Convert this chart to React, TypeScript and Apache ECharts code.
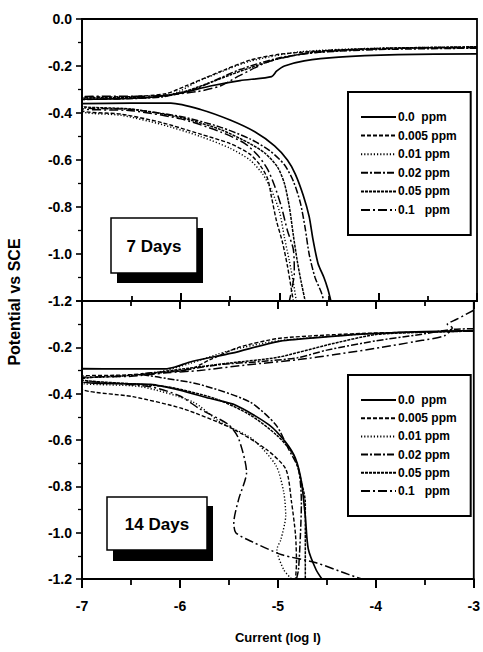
import React, { useEffect, useRef } from "react";
import * as echarts from "echarts";

// ---------- data (log I, potential vs SCE) ----------
const SERIES_NAMES = ["0.0  ppm", "0.005 ppm", "0.01 ppm", "0.02 ppm", "0.05 ppm", "0.1   ppm"];
const X_TICKS = [-7, -6, -5, -4, -3];
const Y_TICKS = [0.0, -0.2, -0.4, -0.6, -0.8, -1.0, -1.2];
const PANEL_LABELS = ["7 Days", "14 Days"];

// 7 days
const d7_00 = [[-3,-0.148],[-3.8,-0.152],[-4.4,-0.162],[-4.75,-0.178],[-4.95,-0.2],[-5.03,-0.222],[-5.08,-0.245],[-5.4,-0.262],[-5.7,-0.285],[-6.0,-0.315],[-6.3,-0.333],[-6.7,-0.34],[-7,-0.342],
  [-7,-0.36],[-6.5,-0.358],[-6.1,-0.358],[-5.8,-0.385],[-5.5,-0.43],[-5.25,-0.48],[-5.05,-0.54],[-4.92,-0.6],[-4.84,-0.66],[-4.76,-0.75],[-4.7,-0.84],[-4.66,-0.94],[-4.61,-1.04],[-4.55,-1.1],[-4.51,-1.15],[-4.48,-1.2]];
const d7_005 = [[-3,-0.122],[-3.5,-0.123],[-4.0,-0.127],[-4.5,-0.134],[-5.0,-0.15],[-5.3,-0.175],[-5.55,-0.215],[-5.75,-0.25],[-5.95,-0.285],[-6.15,-0.318],[-6.5,-0.33],[-7,-0.335],
  [-7,-0.388],[-6.6,-0.405],[-6.2,-0.44],[-5.8,-0.49],[-5.5,-0.53],[-5.3,-0.575],[-5.2,-0.62],[-5.12,-0.68],[-5.08,-0.76],[-5.03,-0.86],[-4.97,-0.95],[-4.92,-1.05],[-4.88,-1.15],[-4.86,-1.2]];
const d7_01 = [[-3,-0.12],[-4,-0.124],[-4.8,-0.14],[-5.3,-0.18],[-5.65,-0.235],[-5.85,-0.27],[-6.0,-0.305],[-6.15,-0.328],[-6.5,-0.337],[-7,-0.34],
  [-7,-0.392],[-6.6,-0.41],[-6.2,-0.448],[-5.8,-0.5],[-5.5,-0.55],[-5.3,-0.6],[-5.17,-0.66],[-5.08,-0.73],[-5.0,-0.82],[-4.95,-0.93],[-4.9,-1.03],[-4.86,-1.12],[-4.83,-1.2]];
const d7_02 = [[-3,-0.124],[-4,-0.13],[-4.6,-0.142],[-5.0,-0.165],[-5.4,-0.215],[-5.7,-0.27],[-5.9,-0.305],[-6.2,-0.332],[-6.6,-0.34],[-7,-0.345],
  [-7,-0.375],[-6.5,-0.385],[-6.0,-0.415],[-5.6,-0.46],[-5.3,-0.51],[-5.1,-0.56],[-4.95,-0.62],[-4.86,-0.69],[-4.79,-0.78],[-4.74,-0.89],[-4.7,-1.0],[-4.64,-1.1],[-4.58,-1.16],[-4.55,-1.2]];
const d7_05 = [[-3,-0.118],[-4,-0.125],[-4.6,-0.138],[-5.0,-0.168],[-5.3,-0.208],[-5.5,-0.238],[-5.75,-0.278],[-6.0,-0.313],[-6.3,-0.333],[-7,-0.338],
  [-7,-0.37],[-6.5,-0.383],[-6.0,-0.42],[-5.6,-0.47],[-5.3,-0.53],[-5.15,-0.57],[-5.02,-0.63],[-4.95,-0.7],[-4.9,-0.8],[-4.86,-0.92],[-4.82,-1.03],[-4.78,-1.12],[-4.74,-1.2]];
const d7_1 = [[-3,-0.12],[-4,-0.127],[-4.7,-0.145],[-5.1,-0.18],[-5.4,-0.24],[-5.6,-0.285],[-5.85,-0.31],[-6.3,-0.328],[-7,-0.33],
  [-7,-0.38],[-6.5,-0.39],[-6.0,-0.425],[-5.6,-0.48],[-5.35,-0.53],[-5.22,-0.58],[-5.12,-0.64],[-5.05,-0.71],[-4.98,-0.8],[-4.92,-0.9],[-4.86,-0.98],[-4.85,-1.08],[-4.87,-1.14],[-4.9,-1.2]];

// 14 days
const d14_00 = [[-3,-0.128],[-3.5,-0.132],[-4.1,-0.142],[-4.6,-0.158],[-5.0,-0.175],[-5.47,-0.225],[-5.87,-0.26],[-6.05,-0.285],[-6.15,-0.293],[-6.6,-0.293],[-7,-0.292],
  [-7,-0.348],[-6.3,-0.36],[-6.0,-0.385],[-5.7,-0.42],[-5.43,-0.45],[-5.09,-0.535],[-4.92,-0.61],[-4.82,-0.68],[-4.76,-0.78],[-4.72,-0.93],[-4.69,-1.07],[-4.61,-1.16],[-4.55,-1.2]];
const d14_005 = [[-3,-0.13],[-4,-0.138],[-4.5,-0.147],[-5.0,-0.162],[-5.4,-0.2],[-5.7,-0.255],[-5.9,-0.295],[-6.2,-0.31],[-6.6,-0.32],[-7,-0.325],
  [-7,-0.378],[-6.48,-0.413],[-5.97,-0.465],[-5.47,-0.55],[-5.12,-0.64],[-4.92,-0.725],[-4.86,-0.87],[-4.82,-1.01],[-4.81,-1.13],[-4.82,-1.2]];
const d14_01 = [[-3,-0.13],[-4,-0.14],[-5,-0.172],[-5.5,-0.215],[-5.9,-0.27],[-6.2,-0.305],[-6.6,-0.325],[-7,-0.335],
  [-7,-0.355],[-6.4,-0.37],[-5.87,-0.435],[-5.6,-0.52],[-5.26,-0.596],[-5.02,-0.71],[-4.94,-0.826],[-4.92,-0.926],[-4.97,-1.03],[-5.01,-1.073],[-4.94,-1.16],[-4.86,-1.2]];
const d14_02 = [[-3,-0.12],[-3.2,-0.122],[-3.6,-0.148],[-4.0,-0.172],[-4.5,-0.212],[-4.8,-0.245],[-5.2,-0.262],[-5.6,-0.275],[-6.0,-0.3],[-6.3,-0.31],[-6.4,-0.315],
  [-6.2,-0.33],[-5.8,-0.36],[-5.29,-0.435],[-5.02,-0.535],[-4.89,-0.64],[-4.79,-0.725],[-4.76,-0.87],[-4.77,-1.01],[-4.79,-1.16],[-4.81,-1.2]];
const d14_05 = [[-3,-0.13],[-3.5,-0.135],[-4.0,-0.145],[-4.5,-0.19],[-5.0,-0.243],[-5.5,-0.268],[-6.0,-0.295],[-6.4,-0.318],[-7,-0.335],
  [-7,-0.34],[-6.14,-0.37],[-5.65,-0.42],[-5.29,-0.49],[-5.01,-0.58],[-4.84,-0.665],[-4.76,-0.78],[-4.72,-0.87],[-4.72,-1.0],[-4.72,-1.2]];
const d14_1 = [[-3,-0.04],[-3.18,-0.08],[-3.27,-0.1],[-3.22,-0.115],[-3.3,-0.15],[-3.6,-0.175],[-3.94,-0.2],[-4.4,-0.23],[-4.79,-0.253],[-5.3,-0.275],[-5.8,-0.3],[-6.14,-0.31],[-6.5,-0.325],[-7,-0.33],
  [-7,-0.34],[-6.3,-0.37],[-6.0,-0.41],[-5.8,-0.465],[-5.5,-0.535],[-5.4,-0.595],[-5.32,-0.74],[-5.4,-0.855],[-5.45,-0.957],[-5.43,-1.0],[-5.26,-1.04],[-4.96,-1.095],[-4.61,-1.13],[-4.28,-1.18],[-4.05,-1.21],[-3.5,-1.222],[-3,-1.228]];

const DAY7 = [d7_00, d7_005, d7_01, d7_02, d7_05, d7_1];
const DAY14 = [d14_00, d14_005, d14_01, d14_02, d14_05, d14_1];

// ---------- styling ----------
const FONT = '"Liberation Sans",Arial,sans-serif';
const LINE_STYLES: any[] = [
  { type: "solid", width: 1.7 },
  { type: [4, 2], width: 1.4 },
  { type: [1.2, 2], width: 1.4 },
  { type: [7, 2, 2, 2], width: 1.5 },
  { type: [3, 1], width: 1.5 },
  { type: [9, 3, 2, 3], width: 1.5 },
];

function buildOption() {
  const labelStyle = { color: "#000", fontFamily: FONT, fontWeight: "bold", fontSize: 14 };
  const series: any[] = [];
  [DAY7, DAY14].forEach((panel, gi) => {
    panel.forEach((d, i) => {
      series.push({
        type: "line",
        name: SERIES_NAMES[i],
        xAxisIndex: gi === 0 ? 0 : 1,
        yAxisIndex: gi,
        data: d,
        symbol: "none",
        showSymbol: false,
        smooth: 0.25,
        clip: true,
        lineStyle: { color: "#000", ...LINE_STYLES[i] },
        itemStyle: { color: "#000" },
      });
    });
  });

  const yAxisBase = (gi: number) => ({
    type: "value",
    gridIndex: gi,
    min: Y_TICKS[Y_TICKS.length - 1],
    max: Y_TICKS[0],
    interval: 0.2,
    axisLine: { show: true, lineStyle: { color: "#000", width: 1.8 } },
    axisTick: { show: true, inside: false, length: 6, lineStyle: { color: "#000", width: 1.6 } },
    minorTick: { show: true, splitNumber: 2, length: 4, lineStyle: { color: "#000", width: 1.3 } },
    splitLine: { show: false },
    axisLabel: {
      ...labelStyle,
      margin: 10,
      formatter: (v: number) => {
        if (gi === 1 && Math.abs(v) < 1e-9) return "";
        return (Math.abs(v) < 1e-9 ? 0 : v).toFixed(1);
      },
    },
  });

  const xBase = {
    type: "value",
    min: X_TICKS[0],
    max: X_TICKS[X_TICKS.length - 1],
    interval: 1,
    splitLine: { show: false },
    axisLine: { show: true, onZero: false, lineStyle: { color: "#000", width: 2 } },
  };

  return {
    animation: false,
    backgroundColor: "#fff",
    grid: [
      { left: 82, top: 19, width: 395, height: 282, show: true, borderColor: "#000", borderWidth: 1.8, backgroundColor: "transparent" },
      { left: 82, top: 301, width: 395, height: 278, show: true, borderColor: "#000", borderWidth: 1.8, backgroundColor: "transparent" },
    ],
    xAxis: [
      {
        ...xBase, gridIndex: 0, position: "bottom",
        axisTick: { show: true, inside: true, length: 8, lineStyle: { color: "#000", width: 2 } },
        minorTick: { show: true, splitNumber: 2, length: 5, lineStyle: { color: "#000", width: 1.8 } },
        axisLabel: { show: false },
      },
      {
        ...xBase, gridIndex: 1, position: "bottom",
        axisTick: { show: true, inside: false, length: 9, lineStyle: { color: "#000", width: 2 } },
        minorTick: { show: true, splitNumber: 2, length: 6, lineStyle: { color: "#000", width: 1.8 } },
        axisLabel: { ...labelStyle, margin: 20, formatter: (v: number) => String(v) },
        name: "Current (log I)",
        nameLocation: "middle",
        nameGap: 52,
        nameTextStyle: { color: "#000", fontFamily: FONT, fontWeight: "bold", fontSize: 13 },
      },
      {
        ...xBase, gridIndex: 1, position: "top",
        axisTick: { show: true, inside: true, length: 8, lineStyle: { color: "#000", width: 2 } },
        minorTick: { show: true, splitNumber: 2, length: 5, lineStyle: { color: "#000", width: 1.8 } },
        axisLabel: { show: false },
      },
    ],
    yAxis: [yAxisBase(0), yAxisBase(1)],
    legend: [0, 1].map((gi) => ({
      data: SERIES_NAMES,
      orient: "vertical",
      left: 348,
      top: gi === 0 ? 92 : 375,
      itemWidth: 35,
      itemHeight: 14,
      itemGap: gi === 0 ? 6.6 : 6.2,
      padding: [19, 14, 19, 12],
      borderColor: "#000",
      borderWidth: 2,
      backgroundColor: "#fff",
      selectedMode: false,
      itemStyle: { opacity: 0 },
      textStyle: { color: "#000", fontFamily: FONT, fontWeight: "bold", fontSize: 12, padding: [0, 0, 0, -3] },
    })),
    graphic: [
      // 7 Days box
      { type: "rect", z: 10, shape: { x: 117, y: 228, width: 86, height: 55 }, style: { fill: "#000" } },
      { type: "rect", z: 11, shape: { x: 111, y: 218, width: 86, height: 55 }, style: { fill: "#fff", stroke: "#000", lineWidth: 1.5 } },
      {
        type: "text", z: 12, x: 154, y: 246,
        style: { text: PANEL_LABELS[0], fill: "#000", fontFamily: FONT, fontSize: 17, fontWeight: "bold", align: "center", verticalAlign: "middle", textAlign: "center", textVerticalAlign: "middle" },
      },
      // 14 Days box
      { type: "rect", z: 10, shape: { x: 113, y: 506, width: 100, height: 55 }, style: { fill: "#000" } },
      { type: "rect", z: 11, shape: { x: 107, y: 497, width: 100, height: 53 }, style: { fill: "#fff", stroke: "#000", lineWidth: 1.5 } },
      {
        type: "text", z: 12, x: 157, y: 524,
        style: { text: PANEL_LABELS[1], fill: "#000", fontFamily: FONT, fontSize: 17, fontWeight: "bold", align: "center", verticalAlign: "middle", textAlign: "center", textVerticalAlign: "middle" },
      },
      // Y title
      {
        type: "text", z: 12, x: 14, y: 302, rotation: Math.PI / 2,
        style: { text: "Potential vs SCE", fill: "#000", fontFamily: FONT, fontSize: 16, fontWeight: "bold", align: "center", verticalAlign: "middle", textAlign: "center", textVerticalAlign: "middle" },
      },
    ],
    series,
  };
}

export default function App() {
  const ref = useRef<HTMLDivElement>(null);
  useEffect(() => {
    if (!ref.current) return;
    const chart = echarts.init(ref.current, undefined, { renderer: "svg" });
    chart.setOption(buildOption() as any);
    return () => chart.dispose();
  }, []);
  return (
    <div
      ref={ref}
      style={{ position: "fixed", left: 0, top: 0, width: 483, height: 652, background: "#fff" }}
    />
  );
}
